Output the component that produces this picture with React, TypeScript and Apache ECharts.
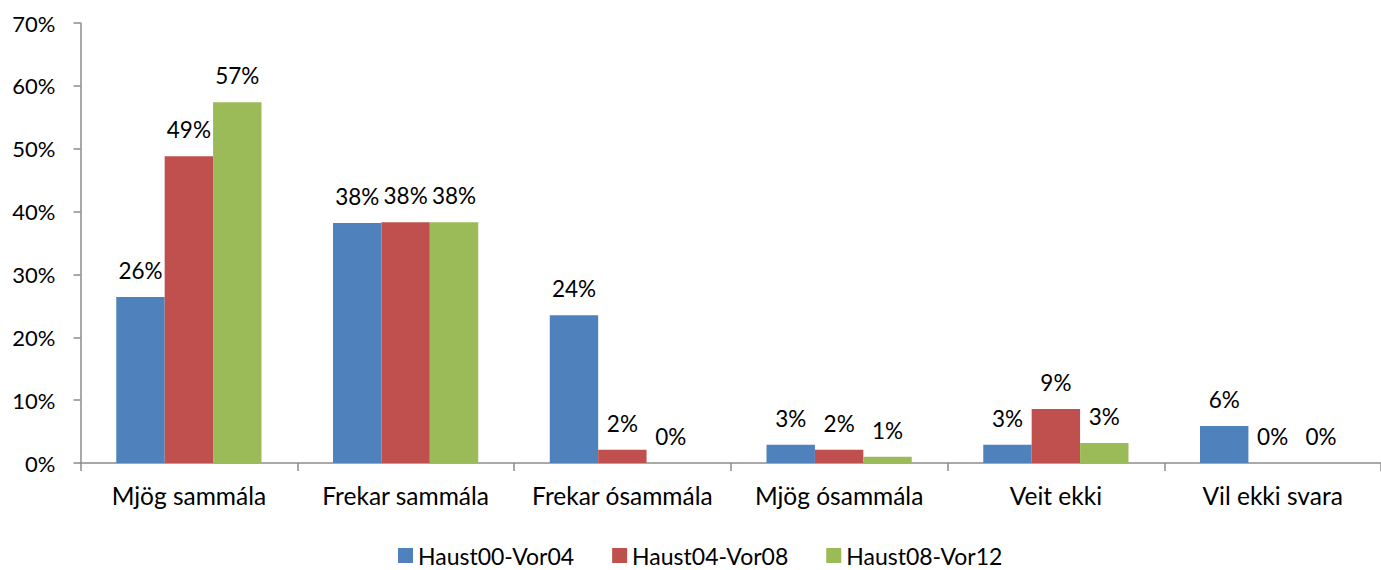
import React, { useEffect, useRef } from "react";
import * as echarts from "echarts";

const categories = [
  "Mjög sammála",
  "Frekar sammála",
  "Frekar ósammála",
  "Mjög ósammála",
  "Veit ekki",
  "Vil ekki svara",
];
const seriesNames = ["Haust00-Vor04", "Haust04-Vor08", "Haust08-Vor12"];
const haust00 = [26.4, 38.2, 23.5, 2.9, 2.9, 5.9];
const haust04 = [48.8, 38.3, 2.1, 2.1, 8.6, 0];
const haust08 = [57.4, 38.3, 0, 1.0, 3.2, 0];
const yTicks = [0, 10, 20, 30, 40, 50, 60, 70];
const colors = ["#4F81BD", "#C0504D", "#9BBB59"];

const FONT = "Lato, 'Open Sans', sans-serif";

export default function App() {
  const ref = useRef<HTMLDivElement>(null);
  useEffect(() => {
    if (!ref.current) return;
    const chart = echarts.init(ref.current, undefined, { renderer: "svg" });
    const all = [haust00, haust04, haust08];
    chart.setOption({
      animation: false,
      textStyle: { fontFamily: FONT },
      grid: { left: 80.5, right: -4.5, top: 23, bottom: 107, containLabel: false },
      legend: {
        left: 393,
        top: 539,
        padding: 5,
        icon: "rect",
        itemWidth: 15,
        itemHeight: 15,
        itemGap: 38,
        textStyle: { fontSize: 23, lineHeight: 23, color: "#000", fontFamily: FONT },
        data: seriesNames,
      },
      xAxis: {
        type: "category",
        data: categories,
        axisLine: { lineStyle: { color: "#8c8c8c", width: 1.5 } },
        axisTick: { show: true, interval: 0, length: 8, lineStyle: { color: "#8c8c8c", width: 1.5 } },
        axisLabel: { fontSize: 24.5, interval: 0, color: "#000", margin: 20, fontFamily: FONT },
      },
      yAxis: {
        type: "value",
        min: yTicks[0],
        max: yTicks[yTicks.length - 1],
        interval: 10,
        splitLine: { show: false },
        axisLine: { show: true, lineStyle: { color: "#8c8c8c", width: 1.5 } },
        axisTick: { show: true, length: 7, lineStyle: { color: "#8c8c8c", width: 1.5 } },
        axisLabel: {
          fontSize: 22,
          color: "#000",
          margin: 25,
          fontFamily: FONT,
          formatter: (v: number) => `${v}%`,
        },
      },
      series: all.map((d, i) => ({
        name: seriesNames[i],
        type: "bar",
        data: d,
        barGap: "0%",
        barCategoryGap: "33%",
        itemStyle: { color: colors[i] },
        label: {
          show: true,
          position: "top",
          distance: 15,
          fontSize: 22.5,
          color: "#000",
          fontFamily: FONT,
          formatter: (p: any) => `${Math.round(p.value)}%`,
        },
      })),
    });
    return () => chart.dispose();
  }, []);
  return (
    <div
      ref={ref}
      style={{ position: "absolute", left: 0, top: 0, width: 1381, height: 570, background: "#fff" }}
    />
  );
}
